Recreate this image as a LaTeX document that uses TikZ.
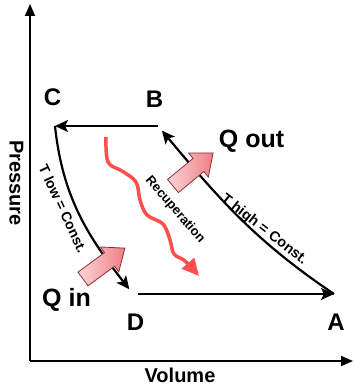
\documentclass[tikz,border=0pt]{standalone}
\usepackage{fontspec}
\setmainfont{Liberation Sans}
\usepackage{tikz}
\usetikzlibrary{arrows.meta,positioning}
\definecolor{recc}{HTML}{FF4F4F}
\definecolor{heatl}{HTML}{FBD6D6}
\definecolor{heatd}{HTML}{EF7E86}
\definecolor{heato}{HTML}{8A2E3B}
\tikzset{
  ax/.style={-{Triangle[length=12pt,width=10pt]},line width=1.8pt},
  cy/.style={-{Stealth[length=13pt,width=12pt,inset=3pt]},line width=2.2pt},
  lb/.style={font=\bfseries\fontsize{24}{24}\selectfont,inner sep=0pt},
  ql/.style={font=\bfseries\fontsize{25}{25}\selectfont,inner sep=0pt},
  tx/.style={font=\bfseries\fontsize{14}{14}\selectfont,inner sep=0pt},
  heat/.style={draw=heato,line width=0.8pt,left color=heatl,right color=heatd}
}
% block arrow, tail at origin, pointing along +x
\newcommand{\heatarrow}{(0,-8.5) -- (33,-8.5) -- (33,-15.5) -- (52,0) -- (33,15.5) -- (33,8.5) -- (0,8.5) -- cycle}

\begin{document}
\begin{tikzpicture}[x=1pt,y=1pt]
\useasboundingbox (0,0) rectangle (354,390);
% axes
\coordinate (O) at (30,29);
\coordinate (yT) at (30,386);
\coordinate (xT) at (353,29);
\draw[ax] (O) -- (yT);
\draw[ax] (O) -- (xT);
\node[lb,font=\bfseries\fontsize{20}{20}\selectfont,anchor=base] (vol) at (180,7) {Volume};
\node[lb,font=\bfseries\fontsize{20}{20}\selectfont,rotate=-90] (pre) at (16.5,207) {Pressure};
% cycle
\coordinate (C) at (55,264);
\coordinate (B) at (158,264);
\coordinate (D) at (133,96);
\coordinate (A) at (334,96);
\draw[cy] (B) -- (C);
\draw[cy,shorten >=6pt] (C) to[out=-84,in=128] (D);
\draw[cy,shorten <=5pt] (D) -- (A);
\draw[cy,shorten >=6pt] (A) to[out=146,in=-50] (B);
\node[lb] (lC) at (52.5,292.5) {C};
\node[lb] (lB) at (154.5,290.5) {B};
\node[lb] (lD) at (135.5,68) {D};
\node[lb] (lA) at (336,68) {A};
\node[tx,rotate=-65] (tlo) at (63,181) {T low = Const.};
\node[tx,font=\bfseries\fontsize{14.5}{14.5}\selectfont,rotate=-38] (thi) at (264,160) {T high = Const.};
% recuperation
\draw[recc,line width=3.5pt,-{Triangle[length=17pt,width=16pt]}]
  plot[smooth,tension=0.6] coordinates {(106,253) (108,228) (122,219) (136,208) (140,190)
  (147,175) (163,166) (170,150) (174,136) (185,129) (199,114)};
\node[tx,font=\bfseries\fontsize{13}{13}\selectfont,rotate=-49] (rec) at (175,180) {Recuperation};
% heat
\shade[heat,shift={(173,204)},rotate=39.5] \heatarrow;
\shade[heat,shift={(83,111)},rotate=36.4] \heatarrow;
\node[ql,anchor=base] (lqo) at (251.5,242) {Q out};
\node[ql,anchor=base] (lqi) at (66.5,83) {Q in};
\end{tikzpicture}
\end{document}
